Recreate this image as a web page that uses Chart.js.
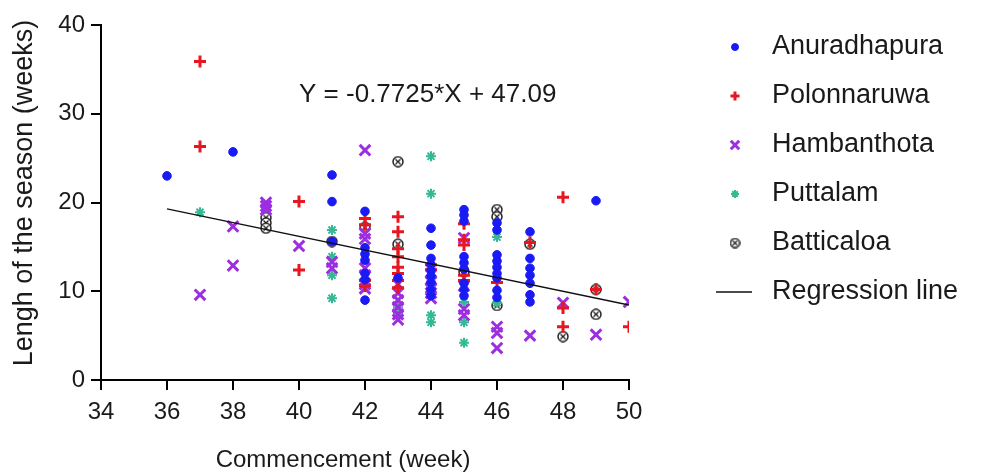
<!DOCTYPE html>
<html><head><meta charset="utf-8">
<script src="https://cdn.jsdelivr.net/npm/chart.js@4/dist/chart.umd.min.js"></script>
<style>html,body{margin:0;padding:0;background:#fff}#wrap{width:983px;height:476px}</style>
</head><body><div id="wrap"><canvas id="c" width="983" height="476"></canvas></div>
<script>
// ---- data (x = commencement week, y = length of season in weeks) ----
const anuradhapura = [[36,23.0],[38,25.7],[41,23.1],[41,20.1],[41,15.6],
  [42,19.0],[42,14.9],[42,14.2],[42,13.5],[42,12.0],[42,11.3],[42,9.0],[43,11.5],
  [44,17.1],[44,15.2],[44,13.7],[44,13.0],[44,12.3],[44,11.7],[44,11.0],[44,10.2],[44,9.5],
  [45,19.2],[45,18.6],[45,17.9],[45,13.9],[45,13.2],[45,12.5],[45,10.9],[45,10.2],[45,9.5],
  [46,17.7],[46,16.9],[46,14.1],[46,13.4],[46,12.7],[46,12.0],[46,11.5],[46,10.1],[46,9.3],
  [47,16.7],[47,13.7],[47,12.6],[47,11.8],[47,10.9],[47,9.6],[47,8.8],[49,20.2]];
const polonnaruwa = [[37,35.9],[37,26.3],[40,20.1],[40,12.4],[42,18.2],[42,17.5],[42,11.2],[42,10.6],
  [43,18.4],[43,16.7],[43,14.8],[43,13.9],[43,12.7],[43,12.0],[43,11.2],[43,10.4],
  [44,13.0],[44,12.4],[45,17.6],[45,15.8],[45,15.2],[45,11.8],[45,11.2],[46,11.0],
  [47,15.5],[48,20.6],[48,8.1],[48,6.0],[49,10.2],[50,6.0]];
const hambanthota = [[37,9.6],[38,17.3],[38,12.9],[39,20.0],[39,19.6],[39,19.2],[40,15.1],[41,13.3],[41,12.6],
  [42,25.9],[42,16.5],[42,15.9],[42,12.6],[42,11.8],[42,10.8],[42,10.3],
  [43,10.8],[43,9.8],[43,9.0],[43,8.2],[43,7.4],[43,6.8],
  [44,12.0],[44,11.2],[44,10.4],[44,9.8],[44,9.2],[45,16.0],[45,10.6],[45,8.0],[45,7.3],
  [46,6.0],[46,5.3],[46,3.6],[47,5.0],[48,8.7],[49,5.1],[50,8.8]];
const puttalam = [[37,18.9],[41,16.9],[41,13.9],[41,11.8],[41,9.2],[43,8.2],[43,7.5],
  [44,25.2],[44,21.0],[44,7.3],[44,6.5],[45,8.8],[45,6.5],[45,4.2],[46,16.1],[46,8.7]];
const batticaloa = [[39,18.3],[39,17.7],[39,17.1],[41,15.6],[42,17.2],[43,24.6],[43,15.3],[45,12.2],
  [46,19.2],[46,18.4],[46,8.4],[47,15.3],[48,4.9],[49,10.2],[49,7.4]];
const regressionLine = [[36,19.28],[50,8.46]];
const seriesNames = ['Anuradhapura','Polonnaruwa','Hambanthota','Puttalam','Batticaloa','Regression line'];
const equationText = 'Y = -0.7725*X + 47.09';
const equationAt = [43.9, 32.1];
const xTitle = 'Commencement (week)';
const yTitle = 'Lengh of the season (weeks)';

// ---- styling ----
const FONT = "'Liberation Sans', Arial, sans-serif";
const TXT = '#1a1a1a';
Chart.defaults.font.family = FONT;
Chart.defaults.color = TXT;

function circleX(size) {
  const c = document.createElement('canvas');
  c.width = size; c.height = size;
  const g = c.getContext('2d');
  const m = size / 2, r = size / 2 - 1;
  g.fillStyle = '#fff'; g.strokeStyle = '#222'; g.lineWidth = 1.5;
  g.beginPath(); g.arc(m, m, r, 0, Math.PI * 2); g.fill(); g.stroke();
  g.lineWidth = 1.3; const d = r * 0.5;
  g.beginPath(); g.moveTo(m - d, m - d); g.lineTo(m + d, m + d); g.moveTo(m + d, m - d); g.lineTo(m - d, m + d); g.stroke();
  return c;
}
const bIcon = circleX(12), bIconLeg = circleX(11);

const toXY = a => a.map(p => ({x: p[0], y: p[1]}));
const styles = [
  {pointStyle: 'circle', radius: 4.3, bw: 1, color: '#1a1af5', legR: 3.5},
  {pointStyle: 'cross', radius: 6, bw: 3, color: '#e8161f', legR: 4.5},
  {pointStyle: 'crossRot', radius: 7.5, bw: 3, color: '#9c2ee0', legR: 6},
  {pointStyle: 'star', radius: 5, bw: 2, color: '#35b995', legR: 4},
  {pointStyle: bIcon, radius: 6, bw: 1, color: '#222', legR: 5, legImg: bIconLeg}
];
const raw = [anuradhapura, polonnaruwa, hambanthota, puttalam, batticaloa];
const datasets = raw.map((arr, i) => ({
  type: 'scatter', label: seriesNames[i], data: toXY(arr),
  pointStyle: styles[i].pointStyle, pointRadius: styles[i].radius,
  borderWidth: styles[i].bw, backgroundColor: styles[i].color, borderColor: styles[i].color,
  order: i
}));
datasets.push({type: 'line', label: seriesNames[5], data: toXY(regressionLine), borderColor: '#111',
  borderWidth: 1.5, pointRadius: 0, fill: false, order: -1});

const textPlugin = {
  id: 'sideLegend',
  afterDraw(chart) {
    const ctx = chart.ctx;
    const mx = 735, tx = 772, y0 = 47, dy = 49;
    ctx.save();
    ctx.font = '27px ' + FONT; ctx.textBaseline = 'middle'; ctx.textAlign = 'left';
    chart.data.datasets.forEach((ds, i) => {
      const y = y0 + i * dy;
      if (i < 5) {
        const s = styles[i];
        ctx.fillStyle = s.color; ctx.strokeStyle = s.color; ctx.lineWidth = s.bw;
        Chart.helpers.drawPoint(ctx, {pointStyle: s.legImg || s.pointStyle, radius: s.legR, borderWidth: s.bw, rotation: 0}, mx, y);
      } else {
        ctx.strokeStyle = '#111'; ctx.lineWidth = 1.5;
        ctx.beginPath(); ctx.moveTo(716, y); ctx.lineTo(752, y); ctx.stroke();
      }
      ctx.fillStyle = TXT;
      ctx.fillText(ds.label, tx, y);
    });
    // axis titles (placed as in the original figure)
    ctx.font = '24px ' + FONT; ctx.textAlign = 'center';
    ctx.fillText(xTitle, 343, 460);
    ctx.translate(25, 193); ctx.rotate(-Math.PI / 2);
    ctx.font = '27px ' + FONT;
    ctx.fillText(yTitle, 0, 0);
    ctx.restore();
  },
  afterDatasetsDraw(chart) {
    const ctx = chart.ctx, sx = chart.scales.x, sy = chart.scales.y;
    ctx.save();
    ctx.font = '26px ' + FONT; ctx.fillStyle = TXT; ctx.textAlign = 'center'; ctx.textBaseline = 'middle';
    ctx.fillText(equationText, sx.getPixelForValue(equationAt[0]), sy.getPixelForValue(equationAt[1]));
    ctx.restore();
  }
};

const axisCommon = {
  grid: {display: true, drawOnChartArea: false, drawTicks: true, tickLength: 10, color: '#000', lineWidth: 2},
  border: {display: true, color: '#000', width: 2}
};

new Chart(document.getElementById('c'), {
  data: {datasets},
  options: {
    responsive: false, animation: false, devicePixelRatio: 1,
    layout: {padding: {left: 0, right: 354, top: 25, bottom: 0}},
    plugins: {legend: {display: false}, tooltip: {enabled: false}},
    scales: {
      x: Object.assign({type: 'linear', min: 34, max: 50,
        ticks: {stepSize: 2, font: {size: 24}, color: TXT, padding: 8},
        title: {display: false},
        afterFit(a) { a.height = 96; }}, axisCommon),
      y: Object.assign({type: 'linear', min: 0, max: 40,
        ticks: {stepSize: 10, font: {size: 24}, color: TXT, padding: 6},
        title: {display: false},
        afterFit(a) { a.width = 101; }}, axisCommon)
    }
  },
  plugins: [textPlugin]
});
</script></body></html>
